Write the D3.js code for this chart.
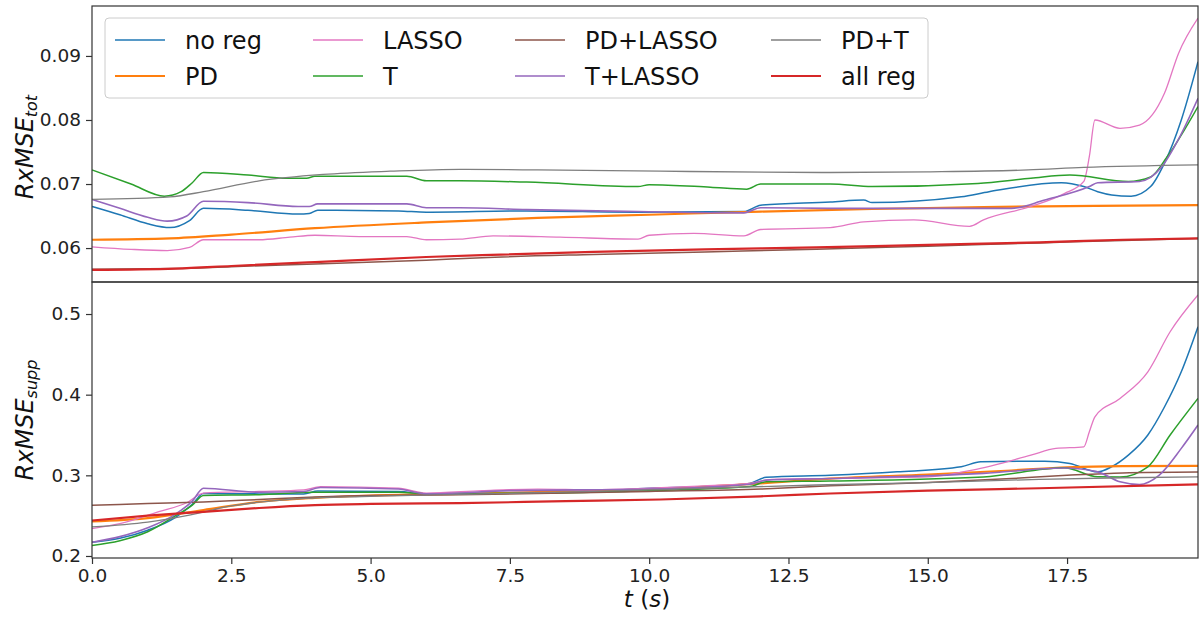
<!DOCTYPE html>
<html><head><meta charset="utf-8">
<script src="https://cdn.jsdelivr.net/npm/d3@7"></script>
<style>
body{margin:0;background:#fff;}
svg{display:block;font-family:"DejaVu Sans",sans-serif;}
</style></head>
<body><svg id="c" width="1200" height="617"></svg>
<script>
// ---------- DATA ----------
const seriesNames = ["no reg","PD","LASSO","T","PD+LASSO","T+LASSO","PD+T","all reg"];
const seriesColors = ["#1f77b4","#ff7f0e","#e377c2","#2ca02c","#8c564b","#9467bd","#7f7f7f","#d62728"];
const xTicks = [0,2.5,5,7.5,10,12.5,15,17.5];
const totTicks = [0.06,0.07,0.08,0.09];
const suppTicks = [0.2,0.3,0.4,0.5];

// Top panel: RxMSE_tot   [t, value]
const totNoReg = [[0,0.0665],[0.5,0.0652],[1.0,0.0638],[1.4,0.0632],[1.75,0.0643],[2.0,0.0662],[2.8,0.0659],[3.7,0.0653],[3.9,0.0654],[4.05,0.0659],[5.5,0.0658],[6,0.0656],[7.8,0.0658],[9.8,0.0656],[11.7,0.0657],[12.0,0.0667],[13.25,0.0672],[13.85,0.0675],[14.0,0.0671],[15.6,0.0680],[16.1,0.0688],[17.4,0.0702],[17.8,0.0696],[18.05,0.0688],[18.3,0.0683],[18.65,0.0681],[19.0,0.0696],[19.25,0.0733],[19.55,0.0800],[19.85,0.0891]];
const totPD = [[0,0.0613],[1.4,0.0615],[2.5,0.0621],[4,0.0631],[6,0.0640],[8,0.0647],[10,0.0652],[12,0.0657],[14,0.0661],[16,0.0664],[18,0.0666],[19.85,0.0667]];
const totLasso = [[0,0.0602],[0.7,0.0598],[1.35,0.0596],[1.75,0.0601],[2.0,0.0613],[3.0,0.0613],[3.55,0.0617],[4.0,0.0620],[4.8,0.0618],[5.65,0.0618],[6.0,0.0613],[6.6,0.0614],[7.2,0.0619],[8.4,0.0617],[9.8,0.0614],[10.0,0.0620],[10.8,0.0623],[11.7,0.0619],[12.0,0.0629],[13.25,0.0632],[13.85,0.0641],[14.75,0.0644],[15.75,0.0634],[16.0,0.0644],[16.85,0.0665],[17.45,0.0685],[17.8,0.0704],[17.9,0.0743],[18.0,0.0800],[18.45,0.0787],[18.8,0.0792],[19.25,0.0842],[19.5,0.0904],[19.85,0.0959]];
const totT = [[0,0.0722],[0.7,0.0700],[1.3,0.0681],[1.6,0.0688],[1.8,0.0702],[2.0,0.0718],[2.8,0.0714],[3.5,0.0709],[3.85,0.0709],[4.0,0.0712],[5.65,0.0712],[6.0,0.0705],[6.6,0.0705],[7.8,0.0703],[9.8,0.0696],[10.0,0.0699],[11.1,0.0695],[11.75,0.0692],[12.0,0.0700],[13.25,0.0700],[14.0,0.0696],[15.9,0.0701],[16.85,0.0709],[17.55,0.0714],[18.6,0.0704],[19.0,0.0711],[19.3,0.0743],[19.85,0.0821]];
const totPDLasso = [[0,0.0567],[1.5,0.0568],[2.5,0.0571],[4,0.0575],[6,0.0581],[7,0.0585],[9,0.0590],[11,0.0594],[13,0.0598],[15,0.0603],[17,0.0608],[18.5,0.0612],[19.85,0.0615]];
const totTLasso = [[0,0.0676],[0.5,0.0662],[1.0,0.0648],[1.35,0.0642],[1.7,0.0650],[2.0,0.0673],[2.8,0.0671],[3.7,0.0665],[3.9,0.0665],[4.05,0.0669],[5.65,0.0669],[6.0,0.0663],[6.6,0.0663],[7.8,0.0660],[9.8,0.0657],[11.7,0.0655],[12.0,0.0663],[13.25,0.0662],[16.5,0.0662],[17.1,0.0675],[17.9,0.0696],[18.05,0.0702],[18.8,0.0704],[19.2,0.0727],[19.5,0.0770],[19.85,0.0834]];
const totPDT = [[0,0.0676],[1.4,0.0680],[2.0,0.0688],[3.0,0.0705],[4.15,0.0715],[5.35,0.0720],[6.6,0.0723],[8,0.0722],[10.2,0.0720],[13.25,0.0718],[15,0.0719],[16.8,0.0722],[17.8,0.0726],[19.85,0.0730]];
const totAllReg = [[0,0.0566],[1.5,0.0568],[2.5,0.0572],[4,0.0578],[6,0.0586],[7,0.0589],[9,0.0594],[11,0.0598],[13,0.0601],[15,0.0605],[17,0.0609],[18.5,0.0613],[19.85,0.0615]];

// Bottom panel: RxMSE_supp   [t, value]
const suppNoReg = [[0,0.217],[0.5,0.222],[1.0,0.232],[1.5,0.248],[1.8,0.264],[2.0,0.2775],[3.0,0.277],[3.8,0.277],[4.05,0.2805],[5.5,0.280],[6.0,0.277],[7.5,0.278],[9.0,0.280],[10.0,0.284],[11.0,0.286],[11.8,0.290],[12.1,0.2975],[13.25,0.300],[14.45,0.3043],[15.6,0.3106],[15.95,0.3168],[17.1,0.3176],[17.55,0.3147],[18.05,0.3043],[18.3,0.3106],[18.6,0.325],[18.95,0.350],[19.25,0.385],[19.55,0.4284],[19.85,0.4843]];
const suppPD = [[0,0.243],[1,0.247],[2,0.257],[3,0.267],[4,0.272],[5,0.275],[6.6,0.277],[8.5,0.280],[10.5,0.284],[12,0.290],[13.25,0.296],[15,0.301],[16.5,0.306],[17.5,0.310],[18.5,0.3115],[19.85,0.3118]];
const suppLasso = [[0,0.234],[0.5,0.240],[1.2,0.255],[1.7,0.266],[2.0,0.278],[3.0,0.280],[3.8,0.282],[4.1,0.286],[5.5,0.284],[6.0,0.278],[7.0,0.281],[8.0,0.283],[9.0,0.282],[10.0,0.284],[11.0,0.287],[11.8,0.290],[12.2,0.295],[13.0,0.296],[15.0,0.298],[15.8,0.3065],[16.85,0.325],[17.3,0.3334],[17.8,0.3354],[17.9,0.354],[18.0,0.3726],[18.45,0.3954],[18.95,0.4284],[19.35,0.478],[19.85,0.5236]];
const suppT = [[0,0.213],[0.5,0.219],[1.0,0.230],[1.5,0.250],[1.8,0.263],[2.0,0.275],[3.0,0.276],[4.0,0.279],[5.5,0.279],[6.0,0.277],[8.0,0.278],[10.0,0.281],[11.8,0.286],[12.1,0.292],[13.25,0.293],[16.0,0.298],[17.45,0.3094],[18.05,0.2981],[18.45,0.298],[18.95,0.3106],[19.35,0.350],[19.85,0.3954]];
const suppPDLasso = [[0,0.263],[1,0.265],[2,0.267],[3,0.270],[4,0.273],[5,0.275],[6.6,0.276],[8.5,0.278],[10,0.280],[12,0.283],[13.25,0.287],[15,0.291],[16.5,0.296],[17.5,0.300],[18.5,0.303],[19.85,0.304]];
const suppTLasso = [[0,0.217],[0.5,0.224],[1.0,0.235],[1.5,0.252],[1.8,0.268],[2.0,0.284],[3.0,0.279],[3.8,0.280],[4.1,0.285],[5.5,0.283],[6.0,0.277],[7.5,0.281],[10.0,0.283],[11.8,0.289],[12.1,0.294],[13.25,0.296],[16.0,0.3024],[17.45,0.309],[18.05,0.3043],[18.45,0.292],[18.8,0.2887],[19.15,0.300],[19.55,0.3334],[19.85,0.3623]];
const suppPDT = [[0,0.236],[1,0.242],[1.7,0.250],[2.5,0.262],[3.5,0.270],[5,0.274],[7,0.277],[9,0.280],[11,0.284],[13,0.288],[15,0.291],[17,0.295],[18.5,0.297],[19.85,0.298]];
const suppAllReg = [[0,0.244],[1.0,0.250],[2,0.2547],[3,0.2595],[4,0.263],[5,0.2645],[6.6,0.2655],[8.5,0.268],[10.2,0.270],[12,0.274],[13.25,0.2775],[15,0.281],[17,0.284],[19.85,0.2887]];

const totSeries = [totNoReg,totPD,totLasso,totT,totPDLasso,totTLasso,totPDT,totAllReg];
const suppSeries = [suppNoReg,suppPD,suppLasso,suppT,suppPDLasso,suppTLasso,suppPDT,suppAllReg];
const seriesWidths = [1.5,2.2,1.3,1.5,1.5,1.6,1.3,2.2];

// ---------- LAYOUT ----------
const svg = d3.select("#c");
const L = 92, R = 1198;
const x = d3.scaleLinear().domain([0,19.85]).range([L,R]);
const yTot = d3.scaleLinear().domain([0.0547,0.0978]).range([282,6]);
const ySupp = d3.scaleLinear().domain([0.1975,0.5397]).range([558,282]);

function panel(y, series, yTickVals, fmt, showX){
  const [yb, yt] = y.range();
  const g = svg.append("g");
  const line = d3.line().x(d=>x(d[0])).y(d=>y(d[1])).curve(d3.curveMonotoneX);
  const clipId = "clip"+yt;
  svg.append("clipPath").attr("id",clipId).append("rect")
    .attr("x",L).attr("y",yt).attr("width",R-L).attr("height",yb-yt);
  const lg = g.append("g").attr("clip-path",`url(#${clipId})`);
  series.forEach((s,i)=>{
    lg.append("path").attr("d",line(s)).attr("fill","none")
      .attr("stroke",seriesColors[i]).attr("stroke-width",seriesWidths[i])
      .attr("stroke-linejoin","round");
  });
  const ya = g.append("g").attr("transform",`translate(${L},0)`)
    .call(d3.axisLeft(y).tickValues(yTickVals).tickFormat(fmt).tickSize(6).tickPadding(5));
  ya.select(".domain").remove();
  ya.selectAll("text").attr("font-size",18.5).attr("fill","#222").attr("font-family","DejaVu Sans");
  ya.selectAll("line").attr("stroke","#333").attr("stroke-width",1.2);
  if(showX){
    const xa = g.append("g").attr("transform",`translate(0,${yb})`)
      .call(d3.axisBottom(x).tickValues(xTicks).tickFormat(d3.format(".1f")).tickSize(6).tickPadding(5));
    xa.select(".domain").remove();
    xa.selectAll("text").attr("font-size",18.5).attr("fill","#222").attr("font-family","DejaVu Sans");
    xa.selectAll("line").attr("stroke","#333").attr("stroke-width",1.2);
  }
  g.append("rect").attr("x",L).attr("y",yt).attr("width",R-L).attr("height",yb-yt)
    .attr("fill","none").attr("stroke","#333").attr("stroke-width",1.2);
}
panel(yTot, totSeries, totTicks, d3.format(".2f"), false);
panel(ySupp, suppSeries, suppTicks, d3.format(".1f"), true);

function ylabel(cx, cy, sub){
  const t = svg.append("text").attr("transform",`translate(${cx},${cy}) rotate(-90)`)
    .attr("text-anchor","middle").attr("font-size",24).attr("fill","#111")
    .attr("font-style","italic");
  t.append("tspan").text("RxMSE");
  t.append("tspan").attr("font-size",16).attr("dy",4).text(sub);
}
ylabel(33, 147, "tot");
ylabel(33, 420, "supp");

const xl = svg.append("text").attr("x",647).attr("y",607).attr("text-anchor","middle")
  .attr("font-size",23).attr("fill","#111");
xl.append("tspan").attr("font-style","italic").text("t");
xl.append("tspan").text(" (");
xl.append("tspan").attr("font-style","italic").text("s");
xl.append("tspan").text(")");

const leg = svg.append("g");
leg.append("rect").attr("x",105).attr("y",18).attr("width",823).attr("height",80).attr("rx",4)
  .attr("fill","white").attr("fill-opacity",0.85).attr("stroke","#ccc").attr("stroke-width",1);
const colX = [115,313,515,771];
const rowY = [40,76];
seriesNames.forEach((n,i)=>{
  const c = Math.floor(i/2), r = i%2;
  leg.append("line").attr("x1",colX[c]).attr("x2",colX[c]+50)
    .attr("y1",rowY[r]).attr("y2",rowY[r])
    .attr("stroke",seriesColors[i]).attr("stroke-width",seriesWidths[i]);
  leg.append("text").attr("x",colX[c]+70).attr("y",rowY[r]).attr("dy","0.36em")
    .attr("font-size",24).attr("fill","#111").text(n);
});
</script></body></html>
